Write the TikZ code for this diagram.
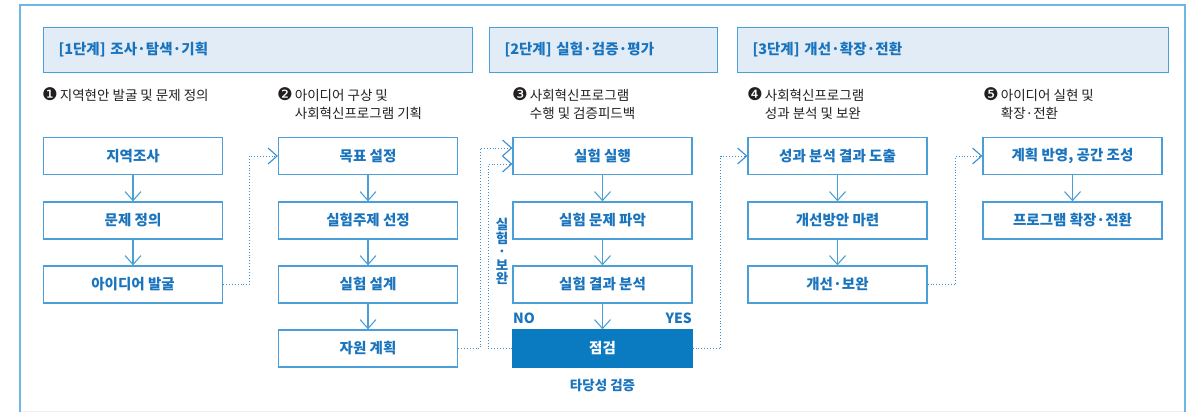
\documentclass[tikz,border=0pt]{standalone}
\usepackage{fontspec}
\setmainfont{Noto Sans CJK KR}
\newfontfamily\numfont{DejaVu Sans}
\usetikzlibrary{arrows.meta}
\definecolor{frameblue}{HTML}{6DB6E6}
\definecolor{boxblue}{HTML}{4A9FD8}
\definecolor{txtblue}{HTML}{1A74BD}
\definecolor{hdrfill}{HTML}{E2ECF6}
\definecolor{fillblue}{HTML}{0A7AC1}
\definecolor{dotblue}{HTML}{3B8ED0}
\definecolor{lbltext}{HTML}{231F20}
\tikzset{
  stepbox/.style={draw=boxblue, line width=1.3pt, minimum width=179pt, minimum height=37pt,
    inner sep=0pt, font=\bfseries\fontsize{14.5}{16}\selectfont, text=txtblue},
  checkbox/.style={stepbox, fill=fillblue, draw=fillblue, text=white},
  hdr/.style={draw=boxblue, fill=hdrfill, line width=1pt, minimum height=45pt, inner xsep=15pt,
    inner ysep=0pt, align=left, anchor=north west, font=\bfseries\fontsize{14.5}{16}\selectfont, text=txtblue},
  lbl/.style={anchor=base west, inner sep=0pt, align=left, font=\fontsize{13.5}{18}\selectfont, text=lbltext},
  flow/.style={draw=boxblue, line width=1.1pt, -{Straight Barb[length=9pt,width=16pt,line width=1.1pt]}},
  dots/.style={draw=dotblue, line width=0.9pt, dotted, -{Straight Barb[length=9pt,width=16pt,line width=1.1pt,sep=0pt]}},
  notes/.style={font=\bfseries\fontsize{14}{16}\selectfont, text=txtblue, inner sep=0pt}
}
\newcommand{\numbox}[1]{{\numfont\fontsize{17.5}{18}\selectfont\raisebox{-0.6pt}{#1}}\hspace{2pt}}
\begin{document}
\begin{tikzpicture}[x=1pt, y=-1pt]
\useasboundingbox (0,0) rectangle (1191,412);
% frame
\draw[gray!12, line width=1pt] (20,411) -- (1185,411);
\draw[frameblue, line width=1.5pt] (20,412) -- (20,5) -- (1185,5) -- (1185,412);
% headers
\node[hdr, text width=399pt] (h1) at (43,27) {[1단계] 조사·탐색·기획};
\node[hdr, text width=198pt] (h2) at (489,27) {[2단계] 실험·검증·평가};
\node[hdr, text width=401pt] (h3) at (737,27) {[3단계] 개선·확장·전환};
% labels (anchor at baseline of last line)
\node[lbl] (l1) at (42,100) {\numbox{❶}지역현안 발굴 및 문제 정의};
\node[lbl] (l2) at (277,118) {\numbox{❷}아이디어 구상 및\\\phantom{\numbox{❷}}사회혁신프로그램 기획};
\node[lbl] (l3) at (512,118) {\numbox{❸}사회혁신프로그램\\\phantom{\numbox{❸}}수행 및 검증피드백};
\node[lbl] (l4) at (747,118) {\numbox{❹}사회혁신프로그램\\\phantom{\numbox{❹}}성과 분석 및 보완};
\node[lbl] (l5) at (983,118) {\numbox{❺}아이디어 실현 및\\\phantom{\numbox{❺}}확장·전환};
% column 1
\node[stepbox] (a1) at (133,156) {지역조사};
\node[stepbox] (a2) at (133,220.5) {문제 정의};
\node[stepbox] (a3) at (133,284.5) {아이디어 발굴};
% column 2
\node[stepbox] (b1) at (368,156) {목표 설정};
\node[stepbox] (b2) at (368,220.5) {실험주제 선정};
\node[stepbox] (b3) at (368,284.5) {실험 설계};
\node[stepbox] (b4) at (368,348.5) {자원 계획};
% column 3
\node[stepbox] (c1) at (602.5,156) {실험 실행};
\node[stepbox] (c2) at (602.5,220.5) {실험 문제 파악};
\node[stepbox] (c3) at (602.5,284.5) {실험 결과 분석};
\node[checkbox] (c4) at (602.5,348.5) {점검};
% column 4
\node[stepbox] (d1) at (837.5,156) {성과 분석 결과 도출};
\node[stepbox] (d2) at (837.5,220.5) {개선방안 마련};
\node[stepbox] (d3) at (837.5,284.5) {개선·보완};
% column 5
\node[stepbox] (e1) at (1072.5,156) {계획 반영, 공간 조성};
\node[stepbox] (e2) at (1072.5,220.5) {프로그램 확장·전환};
% notes
\node[notes, anchor=west] (no) at (513,318) {NO};
\node[notes, anchor=east] (yes) at (692,318) {YES};
\node[notes, font=\bfseries\fontsize{13.5}{15}\selectfont] (val) at (602.5,385) {타당성 검증};
\node[notes, align=center, font=\bfseries\fontsize{13.5}{13.6}\selectfont] (redo) at (502,251.5) {실\\험\\·\\보\\완};
% vertical flows
\draw[flow] (a1) -- (a2);
\draw[flow] (a2) -- (a3);
\draw[flow] (b1) -- (b2);
\draw[flow] (b2) -- (b3);
\draw[flow] (b3) -- (b4);
\draw[flow] (c1) -- (c2);
\draw[flow] (c2) -- (c3);
\draw[flow] (c3) -- (c4);
\draw[flow] (d1) -- (d2);
\draw[flow] (d2) -- (d3);
\draw[flow] (e1) -- (e2);
% dotted connectors
\draw[dots] (a3.east) -- ++(26,0) |- (b1.west);
\draw[dots] (b4.east) -- ++(22,0) |- ([yshift=8pt]c1.west);
\draw[dots] (c4.west) -- ++(-24,0) |- ([yshift=-8pt]c1.west);
\draw[dots] (c4.east) -- ++(28,0) |- (d1.west);
\draw[dots] (d3.east) -- ++(28,0) |- (e1.west);
\end{tikzpicture}
\end{document}
